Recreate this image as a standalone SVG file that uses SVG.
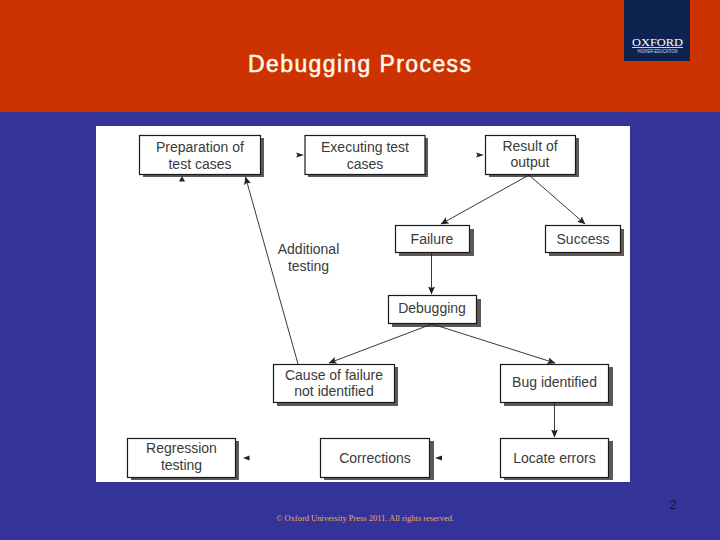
<svg xmlns="http://www.w3.org/2000/svg" width="720" height="540" viewBox="0 0 720 540">
<style>
.b{fill:#fff;stroke:#1a1a1a;stroke-width:1.2}
.s{fill:#5e5954}
.t{font-family:"Liberation Sans",Arial,sans-serif;font-size:14px;fill:#3a3a3a;text-anchor:middle}
.c{stroke:#222;stroke-width:0.9;fill:none}
.h{fill:#222}
</style>
<defs>
<marker id="a" markerUnits="userSpaceOnUse" markerWidth="8" markerHeight="7" refX="7.5" refY="3.5" orient="auto"><path d="M0 0L8 3.5L0 7L1.5 3.5Z" fill="#222"/></marker>
</defs>
<rect width="720" height="540" fill="#333399"/>
<rect width="720" height="112" fill="#cc3300"/>
<g id="logo">
<rect x="624" y="0" width="66" height="61" fill="#0f2350"/>
<text x="657.500" y="45.500" font-family="Liberation Serif,serif" font-size="9.500" fill="#fff" text-anchor="middle" textLength="51" lengthAdjust="spacingAndGlyphs">OXFORD</text>
<rect x="632" y="47" width="51" height="0.8" fill="#fff"/>
<text x="657.500" y="53" font-family="Liberation Sans,sans-serif" font-size="4.500" fill="#d8dce8" text-anchor="middle" textLength="40" lengthAdjust="spacingAndGlyphs">HIGHER EDUCATION</text>
</g>
<text x="359.500" y="72" font-family="Liberation Sans,Arial,sans-serif" font-size="23px" stroke="#fff8ee" stroke-width="0.5" fill="#fff8ee" text-anchor="middle" textLength="223" lengthAdjust="spacing">Debugging Process</text>
<rect x="96" y="126" width="534" height="356" fill="#fff"/>
<g id="preparation"><rect class="s" x="143" y="138" width="121" height="39"/><rect class="b" x="139.500" y="135.500" width="121" height="39"/><text class="t" x="200" y="152">Preparation of</text><text class="t" x="200" y="169">test cases</text></g>
<g id="executing"><rect class="s" x="308" y="138" width="120" height="39"/><rect class="b" x="305" y="135.500" width="120" height="39"/><text class="t" x="365" y="152">Executing test</text><text class="t" x="365" y="169">cases</text></g>
<g id="result"><rect class="s" x="489" y="138" width="90" height="39"/><rect class="b" x="485.500" y="135.500" width="90" height="39"/><text class="t" x="530" y="151">Result of</text><text class="t" x="530" y="167">output</text></g>
<g id="failure"><rect class="s" x="399" y="229" width="75" height="27"/><rect class="b" x="395.500" y="225.500" width="74" height="27"/><text class="t" x="432" y="244">Failure</text></g>
<g id="success"><rect class="s" x="549" y="229" width="75" height="27"/><rect class="b" x="545.500" y="225.500" width="75" height="27"/><text class="t" x="583" y="244">Success</text></g>
<g id="additional"><text class="t" x="308.500" y="254">Additional</text><text class="t" x="308.500" y="271">testing</text></g>
<g id="debugging"><rect class="s" x="392" y="299" width="89" height="28"/><rect class="b" x="388.500" y="295.500" width="88" height="28"/><text class="t" x="432" y="313">Debugging</text></g>
<g id="cause"><rect class="s" x="277" y="367" width="121" height="39"/><rect class="b" x="273.500" y="364.500" width="121" height="38"/><text class="t" x="334" y="380">Cause of failure</text><text class="t" x="334" y="396">not identified</text></g>
<g id="bug"><rect class="s" x="504" y="367" width="109" height="39"/><rect class="b" x="500.500" y="364.500" width="108" height="38"/><text class="t" x="554.500" y="387">Bug identified</text></g>
<g id="regression"><rect class="s" x="131" y="441" width="108" height="39"/><rect class="b" x="127.500" y="438.500" width="108" height="39"/><text class="t" x="181.500" y="453">Regression</text><text class="t" x="181.500" y="470">testing</text></g>
<g id="corrections"><rect class="s" x="324" y="441" width="110" height="39"/><rect class="b" x="320.500" y="438.500" width="109" height="39"/><text class="t" x="375" y="463">Corrections</text></g>
<g id="locate"><rect class="s" x="504" y="441" width="109" height="39"/><rect class="b" x="500.500" y="438.500" width="108" height="39"/><text class="t" x="554.500" y="463">Locate errors</text></g>
<g id="connectors">
<path class="c" d="M298 364L245.500 177" marker-end="url(#a)"/>
<path class="c" d="M529 175L441 224" marker-end="url(#a)"/>
<path class="c" d="M529 175L585 224" marker-end="url(#a)"/>
<path class="c" d="M431.500 253L431.500 294" marker-end="url(#a)"/>
<path class="c" d="M432 324L329 363" marker-end="url(#a)"/>
<path class="c" d="M432 324L555 363" marker-end="url(#a)"/>
<path class="c" d="M554.500 403L554.500 437" marker-end="url(#a)"/>
<path class="h" d="M182 176L185 181.500L179 181.500Z"/>
<path class="h" d="M304 155L296 152.500L297.500 155L296 157.500Z"/>
<path class="h" d="M484 155L476 152.500L477.500 155L476 157.500Z"/>
<path class="h" d="M243 458L249.500 455.500L249.500 460.500Z"/>
<path class="h" d="M435 458L442 455.500L442 460.500Z"/>
</g>
<text x="673" y="509" font-family="Liberation Sans,Arial,sans-serif" font-size="13px" fill="#14143c" text-anchor="middle">2</text>
<text x="365" y="521" font-family="Liberation Serif,serif" font-size="8.500px" fill="#f0a860" text-anchor="middle" textLength="178" lengthAdjust="spacing">© Oxford University Press 2011. All rights reserved.</text>
</svg>
